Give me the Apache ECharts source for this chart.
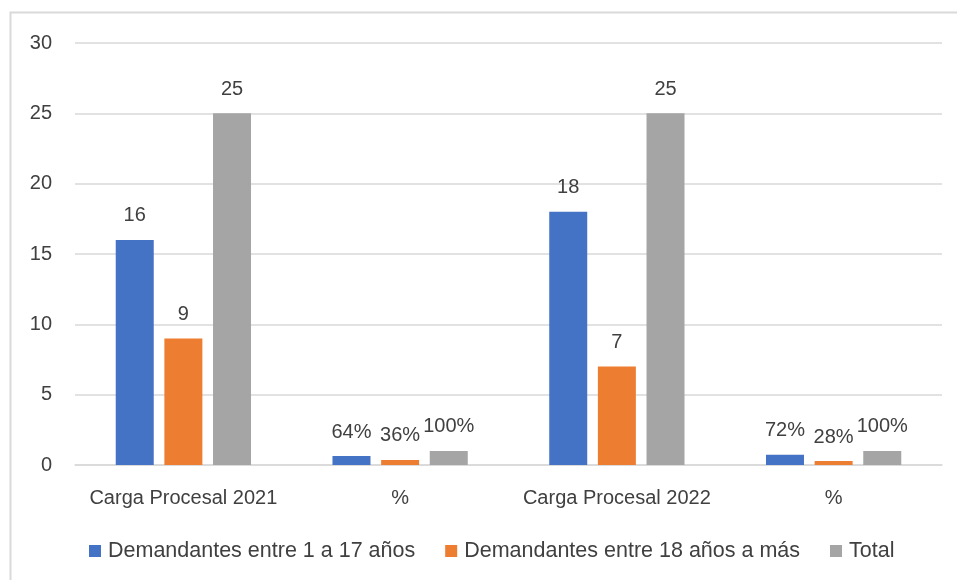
<!DOCTYPE html>
<html>
<head>
<meta charset="utf-8">
<script src="https://cdn.jsdelivr.net/npm/echarts@6/dist/echarts.min.js"></script>
<style>
  html, body { margin: 0; padding: 0; background: #fff; }
  #chart { width: 957px; height: 580px; }
</style>
</head>
<body>
<div id="chart"></div>
<script>
// datos
const categories = ['Carga Procesal 2021', '%', 'Carga Procesal 2022', '%'];
const menores = [16, 0.64, 18, 0.72];
const mayores = [9, 0.36, 7, 0.28];
const total = [25, 1, 25, 1];
const yTicks = [0, 5, 10, 15, 20, 25, 30];

const FONT = 'Liberation Sans';
const TXT = '#404040';

// en las columnas "%" la etiqueta va en porcentaje
function fmtLabel(p) {
  if (categories[p.dataIndex] === '%') return Math.round(p.value * 100) + '%';
  return p.value;
}

function makeSeries(name, data, color) {
  return {
    name: name,
    type: 'bar',
    data: data,
    barWidth: 38,
    barGap: '28%',
    itemStyle: { color: color },
    label: {
      show: true,
      position: 'top',
      distance: 14,
      color: TXT,
      fontSize: 20,
      fontFamily: FONT,
      formatter: fmtLabel,
    },
  };
}

const chart = echarts.init(document.getElementById('chart'), null, { renderer: 'canvas' });
const option = {
  backgroundColor: '#fff',
  animation: false,
  textStyle: { fontFamily: FONT },
  graphic: [
    {
      type: 'polyline',
      shape: { points: [[10.5, 580], [10.5, 12.5], [957, 12.5]] },
      style: { stroke: '#d9d9d9', lineWidth: 2, fill: null },
    },
  ],
  grid: { left: 75, right: 15, top: 43, bottom: 115 },
  legend: {
    top: 535,
    left: 84,
    itemWidth: 12,
    itemHeight: 12,
    itemGap: 30,
    icon: 'rect',
    textStyle: { color: TXT, fontSize: 21.5, fontFamily: FONT, padding: [0, 0, 0, 2] },
    data: ['Demandantes entre 1 a 17 años', 'Demandantes entre 18 años a más', 'Total'],
  },
  xAxis: {
    type: 'category',
    data: categories,
    axisLine: { lineStyle: { color: '#d9d9d9', width: 1.5 } },
    axisTick: { show: false },
    axisLabel: { interval: 0, color: TXT, fontSize: 20, fontFamily: FONT, margin: 23 },
  },
  yAxis: {
    type: 'value',
    min: yTicks[0],
    max: yTicks[yTicks.length - 1],
    interval: 5,
    axisLine: { show: false },
    axisTick: { show: false },
    splitLine: { lineStyle: { color: '#d9d9d9', width: 1.5 } },
    axisLabel: { color: TXT, fontSize: 20, fontFamily: FONT, margin: 23 },
  },
  series: [
    makeSeries('Demandantes entre 1 a 17 años', menores, '#4472c4'),
    makeSeries('Demandantes entre 18 años a más', mayores, '#ed7d31'),
    makeSeries('Total', total, '#a5a5a5'),
  ],
};
chart.setOption(option);
</script>
</body>
</html>
